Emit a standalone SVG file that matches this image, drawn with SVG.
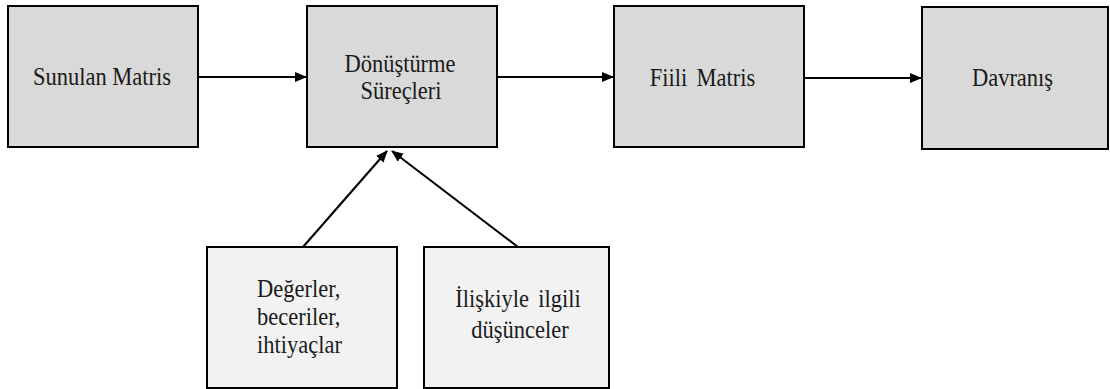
<svg xmlns="http://www.w3.org/2000/svg" width="1110" height="389" viewBox="0 0 1110 389">
<defs>
<style>
.box{fill:#d9d9d9;stroke:#000;stroke-width:2}
.box2{fill:#f2f2f2;stroke:#000;stroke-width:2}
.edge{stroke:#000;stroke-width:2;fill:none}
.c{text-anchor:middle}
</style>
<marker id="ah" markerUnits="userSpaceOnUse" markerWidth="12" markerHeight="10" refX="11" refY="5" orient="auto">
<path d="M0,0 L12,5 L0,10 Z" fill="#000"/>
</marker>
</defs>
<rect width="1110" height="389" fill="#fff"/>
<g id="edges">
<line class="edge" x1="198" y1="77" x2="306" y2="77" marker-end="url(#ah)"/>
<line class="edge" x1="497" y1="77" x2="613" y2="77" marker-end="url(#ah)"/>
<line class="edge" x1="804" y1="78" x2="921" y2="78" marker-end="url(#ah)"/>
<line class="edge" x1="303" y1="247" x2="387" y2="151" marker-end="url(#ah)"/>
<line class="edge" x1="518" y1="247" x2="392" y2="151" marker-end="url(#ah)"/>
</g>
<g font-family="'Liberation Serif', 'Times New Roman', serif" font-size="25" fill="#1a1a1a">
<g id="n1">
<rect class="box" x="8" y="6" width="190" height="141"/>
<text class="c" transform="translate(102,85) scale(0.9,1)">Sunulan Matris</text>
</g>
<g id="n2">
<rect class="box" x="307" y="6" width="190" height="141"/>
<text class="c" transform="translate(400,72) scale(0.9,1)">Dönüştürme</text>
<text class="c" transform="translate(401,99) scale(0.9,1)">Süreçleri</text>
</g>
<g id="n3">
<rect class="box" x="614" y="6" width="190" height="141"/>
<text class="c" word-spacing="4" transform="translate(702.5,86) scale(0.9,1)">Fiili Matris</text>
</g>
<g id="n4">
<rect class="box" x="922" y="7" width="186" height="142"/>
<text class="c" transform="translate(1012.5,86) scale(0.9,1)">Davranış</text>
</g>
<g id="n5">
<rect class="box2" x="207" y="247" width="190" height="141"/>
<text transform="translate(257,297) scale(0.9,1)">Değerler,</text>
<text transform="translate(257,325) scale(0.9,1)">beceriler,</text>
<text transform="translate(257,353) scale(0.9,1)">ihtiyaçlar</text>
</g>
<g id="n6">
<rect class="box2" x="424" y="247" width="185" height="141"/>
<text class="c" word-spacing="4" transform="translate(518,307) scale(0.9,1)">İlişkiyle ilgili</text>
<text class="c" transform="translate(520,338) scale(0.9,1)">düşünceler</text>
</g>
</g>
</svg>
